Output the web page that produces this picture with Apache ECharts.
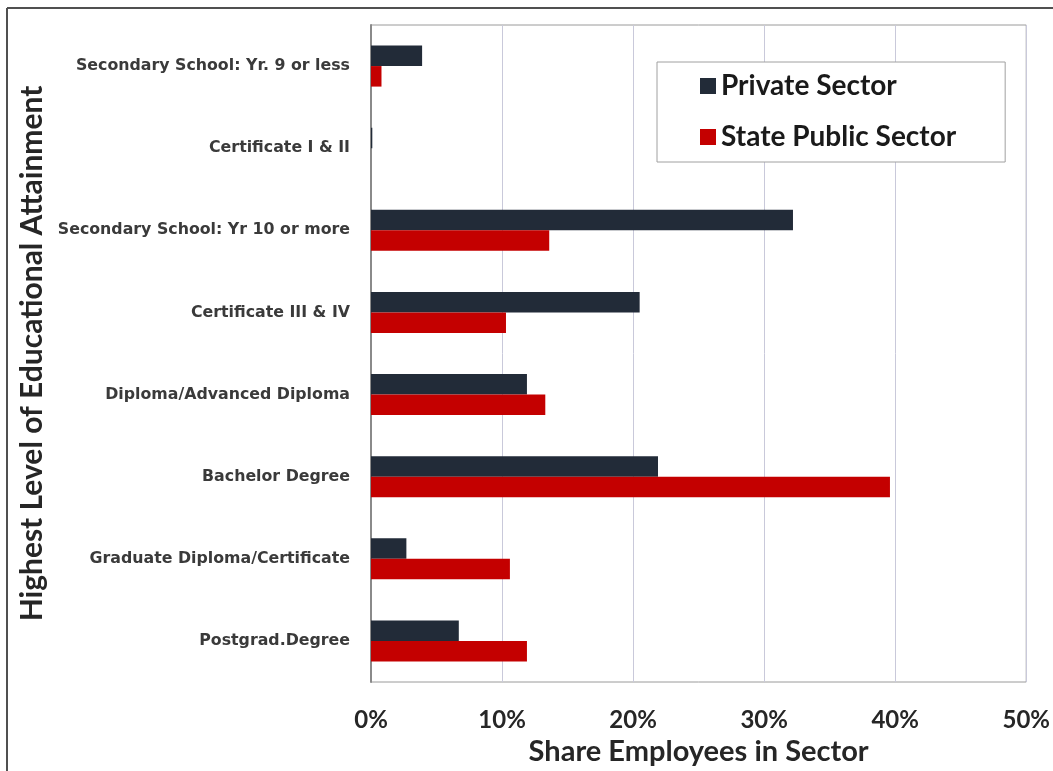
<!DOCTYPE html>
<html>
<head>
<meta charset="utf-8">
<script src="https://cdn.jsdelivr.net/npm/echarts@6/dist/echarts.min.js"></script>
<style>
  html, body { margin: 0; padding: 0; background: #fff; }
  #chart { width: 1053px; height: 771px; }
</style>
</head>
<body>
<div id="chart"></div>
<script>
// Education levels, listed top to bottom
const categories = [
  'Secondary School: Yr. 9 or less',
  'Certificate I & II',
  'Secondary School: Yr 10 or more',
  'Certificate III & IV',
  'Diploma/Advanced Diploma',
  'Bachelor Degree',
  'Graduate Diploma/Certificate',
  'Postgrad.Degree'
];
// Share of employees (%) in each sector
const privateSector = [3.9, 0.1, 32.2, 20.5, 11.9, 21.9, 2.7, 6.7];
const statePublicSector = [0.8, 0.0, 13.6, 10.3, 13.3, 39.6, 10.6, 11.9];
const xTicks = { min: 0, max: 50, interval: 10 };

const chart = echarts.init(document.getElementById('chart'), null, { renderer: 'canvas' });

const titleFont = 'Lato, "Open Sans", sans-serif';

chart.setOption({
  backgroundColor: '#ffffff',
  animation: false,
  graphic: [
    { type: 'line', shape: { x1: 7, y1: 8, x2: 1053, y2: 8 }, style: { stroke: '#505050', lineWidth: 2 } },
    { type: 'line', shape: { x1: 7, y1: 8, x2: 7, y2: 771 }, style: { stroke: '#505050', lineWidth: 2 } }
  ],
  grid: {
    left: 371, right: 22, top: 25, bottom: 89,
    show: true, borderColor: '#9a9a9a', borderWidth: 1,
    containLabel: false
  },
  legend: {
    orient: 'vertical',
    left: 657, top: 62,
    padding: [10, 49, 11, 43],
    itemGap: 23,
    itemWidth: 16, itemHeight: 16,
    icon: 'rect',
    borderColor: '#a0a0a0', borderWidth: 1,
    backgroundColor: '#ffffff',
    textStyle: { fontFamily: titleFont, fontWeight: 'bold', fontSize: 28, color: '#1a1a1a' },
    data: ['Private Sector', 'State Public Sector']
  },
  xAxis: {
    type: 'value',
    min: xTicks.min, max: xTicks.max, interval: xTicks.interval,
    name: 'Share Employees in Sector',
    nameLocation: 'middle',
    nameGap: 55,
    nameTextStyle: { fontFamily: titleFont, fontWeight: 'bold', fontSize: 29, color: '#262626' },
    axisLine: { show: false },
    axisTick: { show: false },
    axisLabel: {
      formatter: '{value}%', margin: 26,
      fontFamily: titleFont, fontWeight: 'bold', fontSize: 24, color: '#262626'
    },
    splitLine: { show: true, lineStyle: { color: '#c9c9da', width: 1 } }
  },
  yAxis: {
    type: 'category',
    inverse: true,
    data: categories,
    name: 'Highest Level of Educational Attainment',
    nameLocation: 'middle',
    nameGap: 313,
    nameRotate: 90,
    nameTextStyle: { fontFamily: titleFont, fontWeight: 'bold', fontSize: 30, color: '#262626' },
    axisLine: { show: true, lineStyle: { color: '#8a8a8a', width: 2 } },
    axisTick: { show: false },
    axisLabel: {
      margin: 21, fontFamily: '"DejaVu Sans", sans-serif', fontWeight: 'bold', fontSize: 15.8, color: '#3a3a3a'
    }
  },
  series: [
    {
      name: 'Private Sector', type: 'bar', data: privateSector,
      barGap: '0%', barCategoryGap: '50%',
      itemStyle: { color: '#222b38' }
    },
    {
      name: 'State Public Sector', type: 'bar', data: statePublicSector,
      itemStyle: { color: '#c40000' }
    }
  ]
});
</script>
</body>
</html>
